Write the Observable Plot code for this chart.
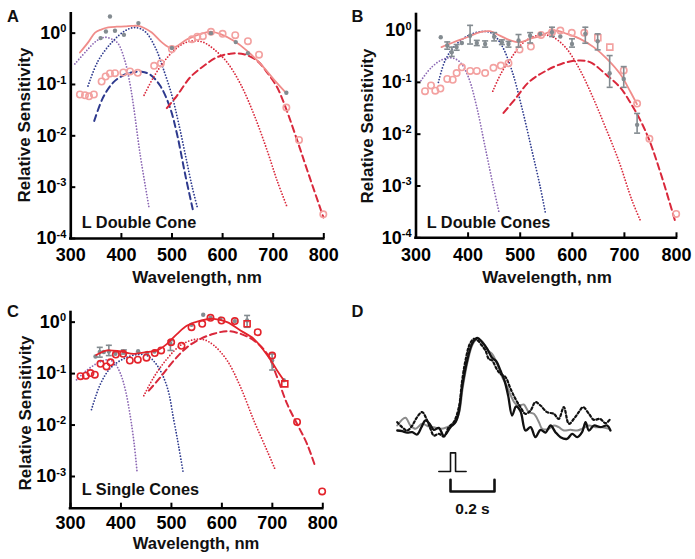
<!DOCTYPE html>
<html><head><meta charset="utf-8">
<script src="https://cdn.jsdelivr.net/npm/d3@7"></script>
<script src="https://cdn.jsdelivr.net/npm/@observablehq/plot@0.6"></script>
<style>
body{margin:0;background:#fff;}
#wrap{position:relative;width:695px;height:559px;overflow:hidden;font-family:"Liberation Sans",Arial,sans-serif;}
#wrap svg{position:absolute;}
</style></head><body><div id="wrap"></div>
<script>
// ---------- DATA (sensitivities stored as log10 values) ----------
const xTicks = [300, 400, 500, 600, 700, 800];
const yTicksAB = [1, 0.1, 0.01, 0.001, 0.0001];
const yTicksC = [1, 0.1, 0.01, 0.001];

// Panel A – L double cone
const A_pinkLineLam = [318,335,348,360,374,390,407,420,434,445,460,480,498,512,530,556,576,596,622,648,675,701,725];
const A_pinkLineLog = [-0.378,-0.17,0.01,0.07,0.11,0.125,0.13,0.14,0.14,0.10,0.012,-0.18,-0.29,-0.24,-0.12,-0.02,0.03,-0.02,-0.15,-0.34,-0.60,-0.90,-1.16];
const A_uvLam = [308,331,351,367.5,384,394,407,417,424,437,454.8];
const A_uvLog = [-0.60,-0.344,-0.149,-0.08,-0.13,-0.21,-0.54,-0.99,-1.42,-2.36,-3.41];
const A_vDotLam = [334,354,381,407,427,447,467,483,500,513,527,540,551];
const A_vDotLog = [-1.03,-0.54,-0.18,0.045,0.11,0.03,-0.28,-0.70,-1.22,-1.75,-2.4,-3.0,-3.43];
const A_vDashLam = [346.3,364,384,404,423.7,440,457,477,496,510,526,541];
const A_vDashLog = [-1.71,-1.25,-0.96,-0.82,-0.76,-0.75,-0.81,-1.03,-1.45,-1.97,-2.75,-3.43];
const A_lDotLam = [444.8,463.4,483,503,523,542.7,562.6,582.4,609,635.3,661.8,688.2,708,728];
const A_lDotLog = [-1.21,-0.86,-0.57,-0.344,-0.20,-0.15,-0.18,-0.31,-0.57,-0.99,-1.58,-2.29,-2.88,-3.40];
const A_lDashLam = [489.8,509.7,536,562.6,589,615.5,642,668.4,688.2,708,724.6,747.8,767.6,799.3];
const A_lDashLog = [-1.46,-1.22,-0.86,-0.64,-0.47,-0.40,-0.41,-0.54,-0.77,-1.06,-1.45,-2.10,-2.68,-3.59];
const A_circLam = [318,328,336,345.6,360.9,368.8,377.4,387.3,403.8,417,432.3,464.7,478,499.8,539.5,550,561,577,600,625,650,672,726,751,799];
const A_circLog = [-1.195,-1.21,-1.23,-1.195,-0.942,-0.845,-0.786,-0.78,-0.767,-0.747,-0.773,-0.637,-0.585,-0.31,-0.117,-0.07,-0.06,0.026,-0.013,-0.04,-0.156,-0.42,-1.45,-2.08,-3.53];
const A_grayLam = [358.9,369.4,377.4,387.3,405,433.6,499.8,577,626,650,726];
const A_grayLog = [-0.097,0.031,0.323,0.045,-0.033,0.195,-0.29,0.0,-0.175,-0.39,-1.16];

// Panel B – L double cones
const B_pinkLineLam = [349,372,398,423,442,461,481,500,519,538,564,590,615,641,667,692,712,724];
const B_pinkLineLog = [-0.32,-0.226,-0.13,-0.03,-0.013,-0.097,-0.19,-0.226,-0.16,-0.11,0,-0.064,-0.16,-0.32,-0.55,-0.84,-1.19,-1.42];
const B_uvLam = [309.6,330,349.4,368.6,384.6,400.6,416.7,432.7,448.7,459.6];
const B_uvLog = [-0.965,-0.707,-0.566,-0.527,-0.61,-0.90,-1.48,-2.25,-3.02,-3.52];
const B_vDotLam = [343,355.8,375,400.6,426.3,445.5,464.7,484,503,522.4,538.5,548];
const B_vDotLog = [-1.0,-0.58,-0.29,-0.096,-0.019,-0.05,-0.29,-0.77,-1.48,-2.31,-3.02,-3.50];
const B_lDotLam = [447.4,464.7,484,503,522.4,541.7,561,586.5,612,637.8,663.5,689,714.7,730.8];
const B_lDotLog = [-1.17,-0.80,-0.51,-0.26,-0.13,-0.084,-0.116,-0.32,-0.71,-1.25,-1.865,-2.51,-3.28,-3.67];
const B_lDashLam = [468,490.4,516,548,580,608,634,667,692,712,731,748,772,798];
const B_lDashLog = [-1.59,-1.32,-1.0,-0.785,-0.64,-0.58,-0.61,-0.87,-1.10,-1.40,-1.74,-2.12,-2.83,-3.70];
const B_circLam = [317.3,328.8,337,346.8,360,370.5,378,388,404,416.7,432.7,448.7,462.8,477.5,498.7,520.5,540,561,577,599,623,698.7,724.4,748,799.4];
const B_circLog = [-1.17,-1.06,-1.16,-1.12,-0.935,-0.95,-0.82,-0.71,-0.78,-0.78,-0.82,-0.72,-0.676,-0.63,-0.367,-0.31,-0.084,-0.032,0,-0.045,-0.045,-0.77,-1.41,-2.09,-3.54];
const B_sqLam = [649,672];
const B_sqLog = [-0.14,-0.32];
const B_grayLam = [347.5,360,368.6,378,388,403.8,416.7,432.7,450,464.8,477.5,496.8,519,538.5,561,577,599.4,625,648.7,671.7,698.7,724.4];
const B_grayLog = [-0.13,-0.29,-0.42,-0.32,-0.24,-0.10,-0.24,-0.26,-0.12,-0.225,-0.26,-0.19,-0.10,-0.064,-0.032,-0.116,-0.26,-0.064,-0.206,-0.825,-0.935,-1.82];
const B_barLam = [360,368.6,378,403.8,416.7,432.7,450,464.8,477.5,496.8,519,561,599.4,625,648.7,671.7,698.7,724.4];
const B_barLoLog = [-0.36,-0.50,-0.38,-0.26,-0.29,-0.32,-0.20,-0.27,-0.32,-0.32,-0.24,-0.116,-0.32,-0.245,-0.373,-1.096,-1.096,-1.98];
const B_barHiLog = [-0.22,-0.32,-0.27,0.10,-0.19,-0.20,-0.04,-0.18,-0.21,-0.077,-0.04,0.064,-0.16,0.064,-0.064,-0.483,-0.696,-1.60];

// Panel C – L single cones
const C_redLineLam = [351,372.7,399,425.5,452,471.7,491.5,511.4,531.2,557.6,584,610.4,636.9,663.3,683,699.6,709.5,722.7];
const C_redLineLog = [-0.64,-0.55,-0.57,-0.615,-0.58,-0.55,-0.42,-0.227,-0.065,0.032,0.065,0,-0.162,-0.324,-0.55,-0.78,-0.94,-1.13];
const C_uvLam = [312,333,353,373,386,399,409,418,426,432];
const C_uvLog = [-1.12,-0.93,-0.80,-0.73,-0.78,-1.0,-1.33,-1.8,-2.35,-2.92];
const C_vDotLam = [341.6,359.4,379.3,405.7,432,452,471.7,491.5,504.8,514.7,523.3];
const C_vDotLog = [-1.70,-1.20,-0.89,-0.71,-0.63,-0.65,-0.84,-1.26,-1.91,-2.43,-2.92];
const C_lDotLam = [445.3,465.1,491.5,518,544.4,564.2,584,610.4,636.9,663.3,689.7,706.2];
const C_lDotLog = [-1.43,-1.07,-0.71,-0.45,-0.34,-0.34,-0.45,-0.745,-1.26,-1.91,-2.50,-2.88];
const C_lDashLam = [455.2,478.3,504.8,531.2,557.6,584,610.4,636.9,663.3,689.7,709.5,729.3,749.1,768.9,785.5];
const C_lDashLog = [-1.33,-1.07,-0.745,-0.486,-0.324,-0.227,-0.175,-0.227,-0.356,-0.616,-1.07,-1.59,-1.98,-2.37,-2.82];
const C_circLam = [319.8,330.4,339.6,348.2,359.4,371.3,379.3,389.8,404.4,417.6,433.4,450.6,467,479.7,499.5,520,539.8,561,577.4,599.2,625.6,671,699.6,749,798.7];
const C_circLog = [-1.05,-1.04,-0.99,-1.02,-0.81,-0.86,-0.78,-0.63,-0.615,-0.745,-0.73,-0.69,-0.60,-0.55,-0.39,-0.46,-0.097,-0.032,0.084,0.032,0.02,-0.194,-0.65,-1.94,-3.29];
const C_sqLam = [650,724.7];
const C_sqLog = [-0.032,-1.20];
const C_grayLam = [349.5,358,366,376,389,405.7,434,452,466.4,498,539.8,563,577.4,597,625.6,650,699.6,722.7];
const C_grayLog = [-0.667,-0.58,-0.58,-0.57,-0.615,-0.58,-0.564,-0.60,-0.57,-0.42,-0.052,0.143,0.084,0.065,0.02,0.032,-0.745,-1.13];
const C_barLam = [358,376,405.7,498,650,699.6];
const C_barLoLog = [-0.68,-0.65,-0.62,-0.55,-0.10,-0.93];
const C_barHiLog = [-0.49,-0.45,-0.54,-0.36,0.13,-0.62];

// Panel D – responses (time s, normalised response)
const D_solidT = [-0.242,-0.220,-0.197,-0.174,-0.152,-0.132,-0.114,-0.095,-0.076,-0.053,-0.030,0,0.023,0.038,0.053,0.076,0.098,0.121,0.144,0.167,0.189,0.208,0.227,0.245,0.262,0.280,0.298,0.318,0.341,0.364,0.386,0.409,0.432,0.455,0.477,0.5,0.530,0.553,0.576,0.598,0.614,0.629,0.652,0.682,0.712,0.727];
const D_solidV = [0,-0.007,-0.022,-0.018,-0.043,0.036,0.108,0.072,0.007,0.029,-0.058,0.036,0.090,0.198,0.468,0.755,0.935,1.0,0.953,0.881,0.784,0.748,0.647,0.540,0.378,0.162,0.259,0.209,0,0.036,-0.072,0.007,-0.022,0.054,-0.018,-0.072,-0.090,-0.036,-0.072,-0.018,0.090,0,0.054,0.036,0.054,0];
const D_grayT = [-0.242,-0.205,-0.182,-0.159,-0.129,-0.098,-0.076,-0.045,-0.015,0.015,0.038,0.056,0.079,0.102,0.124,0.147,0.170,0.189,0.212,0.235,0.255,0.274,0.295,0.314,0.333,0.356,0.379,0.402,0.417,0.447,0.470,0.492,0.515,0.545,0.576,0.598,0.629,0.659,0.689,0.720];
const D_grayV = [0.054,0.137,0.054,0.018,0.072,0.043,0.036,0.018,0.036,0.072,0.180,0.468,0.755,0.935,0.989,0.953,0.863,0.827,0.719,0.576,0.486,0.378,0.288,0.270,0.281,0.198,0.180,0.090,0.018,0.018,0.054,0.036,0,0.007,0,0.018,0.054,0.036,0.036,0.018];
const D_dotT = [-0.242,-0.220,-0.197,-0.174,-0.152,-0.129,-0.106,-0.091,-0.076,-0.053,-0.030,-0.008,0.015,0.038,0.053,0.068,0.088,0.106,0.124,0.139,0.159,0.174,0.189,0.212,0.227,0.250,0.273,0.295,0.318,0.341,0.364,0.386,0.409,0.439,0.470,0.492,0.515,0.538,0.561,0.583,0.603,0.629,0.652,0.679,0.705,0.727];
const D_dotV = [0.090,0.036,0,0.054,0.144,0.198,0.108,0.018,-0.054,-0.036,-0.065,0.036,0.090,0.252,0.540,0.755,0.935,0.989,0.971,0.928,0.863,0.773,0.755,0.655,0.612,0.576,0.450,0.342,0.252,0.180,0.216,0.306,0.270,0.198,0.180,0.126,0.252,0.072,0.126,0.198,0.252,0.180,0.115,0.126,0.079,0.126];
const D_stimT = [-0.053,0,0,0.023,0.023,0.071];
const D_stimV = [-0.442,-0.442,-0.241,-0.241,-0.442,-0.442];
const D_barT = [0,0,0.2,0.2];
const D_barV = [-0.532,-0.658,-0.658,-0.532];
const D_barLabel = "0.2 s";
const D_barLabelV = -0.85;

// ---------- helpers ----------
const ns = "http://www.w3.org/2000/svg";
const wrap = document.getElementById("wrap");
const FONT = "'Liberation Sans', Arial, sans-serif";
const PINK = "#f08c8a", PINKC = "#f3a1a0", RED = "#e3232b", REDD = "#d9283b", PURPLE = "#8c68b4", BLUE = "#2e3a8e", GRAY = "#838b90";
const pts = (lam, lg) => lam.map((x, i) => ({x, y: Math.pow(10, lg[i])}));
const bars = (lam, lo, hi) => lam.map((x, i) => ({x, lo: Math.pow(10, lo[i]), hi: Math.pow(10, hi[i])}));
const cap = {draw(ctx, size) { const w = Math.sqrt(size / Math.PI); ctx.moveTo(-w, 0); ctx.lineTo(w, 0); }};

function curve(lam, lg, stroke, kind) {
  const o = {x: "x", y: "y", stroke, curve: "catmull-rom"};
  if (kind === "dot") Object.assign(o, {strokeWidth: 1.8, strokeDasharray: "0,3", strokeLinecap: "round"});
  else if (kind === "dash") Object.assign(o, {strokeWidth: 2, strokeDasharray: "6.5,4"});
  else Object.assign(o, {strokeWidth: 1.8});
  return Plot.line(pts(lam, lg), o);
}
function circles(lam, lg, stroke) {
  return Plot.dot(pts(lam, lg), {x: "x", y: "y", r: 3.2, stroke, strokeWidth: 1.6, fill: "none"});
}
function squares(lam, lg, stroke) {
  return Plot.dot(pts(lam, lg), {x: "x", y: "y", r: 3.4, symbol: "square", stroke, strokeWidth: 1.6, fill: "none"});
}
function grayDots(lam, lg) {
  return Plot.dot(pts(lam, lg), {x: "x", y: "y", r: 2.2, fill: GRAY, stroke: "none"});
}
function errBars(lam, lo, hi) {
  const d = bars(lam, lo, hi);
  return [
    Plot.ruleX(d, {x: "x", y1: "lo", y2: "hi", stroke: GRAY, strokeWidth: 1.6}),
    Plot.dot(d, {x: "x", y: "lo", symbol: cap, r: 3, stroke: GRAY, strokeWidth: 1.6, fill: "none"}),
    Plot.dot(d, {x: "x", y: "hi", symbol: cap, r: 3, stroke: GRAY, strokeWidth: 1.6, fill: "none"})
  ];
}
function superscripts(svg) {
  svg.querySelectorAll('g[aria-label="y-axis tick label"] text').forEach(t => {
    const s = t.textContent, i = s.indexOf("^");
    if (i < 0) return;
    t.textContent = s.slice(0, i);
    const ts = document.createElementNS(ns, "tspan");
    ts.setAttribute("dy", "-6.5");
    ts.setAttribute("font-size", "11px");
    ts.textContent = s.slice(i + 1);
    t.appendChild(ts);
  });
}
function place(svg, left, top) {
  svg.style.left = left + "px"; svg.style.top = top + "px";
  wrap.appendChild(svg);
}
const baseStyle = {fontFamily: FONT, fontWeight: "bold", fontSize: "18px", background: "none", overflow: "visible", color: "#000"};

function spectral({left, top, width, height, mL, mR, mT, mB, yDomain, yTicks, marks, xPad = 15}) {
  const svg = Plot.plot({
    width, height, marginLeft: mL, marginRight: mR, marginTop: mT, marginBottom: mB,
    x: {domain: [300, 800]},
    y: {type: "log", domain: yDomain},
    style: baseStyle,
    marks: [
      ...marks,
      Plot.axisX({ticks: xTicks, tickSize: -5, tickPadding: xPad, strokeWidth: 2, tickFormat: d => String(d), label: null}),
      Plot.axisY({ticks: yTicks, tickSize: -5, tickPadding: 9.5, strokeWidth: 2, tickFormat: d => "10^" + Math.round(Math.log10(d)), label: null}),
      Plot.ruleX([300], {strokeWidth: 2.6, strokeLinecap: "square"}),
      Plot.ruleY([yDomain[0]], {strokeWidth: 2.6, strokeLinecap: "square"})
    ]
  });
  superscripts(svg);
  place(svg, left, top);
}

// ---------- Panel A ----------
spectral({
  left: 0, top: 0, width: 345, height: 280, mL: 70.3, mR: 21.7, mT: 13.3, mB: 42,
  yDomain: [1e-4, 2.38], yTicks: yTicksAB,
  marks: [
    curve(A_uvLam, A_uvLog, PURPLE, "dot"),
    curve(A_vDotLam, A_vDotLog, BLUE, "dot"),
    curve(A_vDashLam, A_vDashLog, BLUE, "dash"),
    curve(A_lDotLam, A_lDotLog, REDD, "dot"),
    curve(A_lDashLam, A_lDashLog, REDD, "dash"),
    curve(A_pinkLineLam, A_pinkLineLog, PINK, "solid"),
    circles(A_circLam, A_circLog, PINKC),
    grayDots(A_grayLam, A_grayLog)
  ]
});

// ---------- Panel B ----------
spectral({
  left: 345, top: 0, width: 350, height: 280, mL: 70.5, mR: 19, mT: 14, mB: 42.7,
  yDomain: [1e-4, 2.04], yTicks: yTicksAB,
  marks: [
    curve(B_uvLam, B_uvLog, PURPLE, "dot"),
    curve(B_vDotLam, B_vDotLog, BLUE, "dot"),
    curve(B_lDotLam, B_lDotLog, REDD, "dot"),
    curve(B_lDashLam, B_lDashLog, REDD, "dash"),
    curve(B_pinkLineLam, B_pinkLineLog, PINK, "solid"),
    circles(B_circLam, B_circLog, PINKC),
    squares(B_sqLam, B_sqLog, PINKC),
    ...errBars(B_barLam, B_barLoLog, B_barHiLog),
    grayDots(B_grayLam, B_grayLog)
  ]
});

// ---------- Panel C ----------
spectral({
  left: 0, top: 280, width: 345, height: 279, mL: 70, mR: 22.7, mT: 32, mB: 51.3, xPad: 13,
  yDomain: [2.42e-4, 1.54], yTicks: yTicksC,
  marks: [
    curve(C_uvLam, C_uvLog, PURPLE, "dot"),
    curve(C_vDotLam, C_vDotLog, BLUE, "dot"),
    curve(C_lDotLam, C_lDotLog, REDD, "dot"),
    curve(C_lDashLam, C_lDashLog, REDD, "dash"),
    ...errBars(C_barLam, C_barLoLog, C_barHiLog),
    grayDots(C_grayLam, C_grayLog),
    curve(C_redLineLam, C_redLineLog, RED, "solid"),
    circles(C_circLam, C_circLog, RED),
    squares(C_sqLam, C_sqLog, RED)
  ]
});

// ---------- Panel D ----------
{
  const tr = (T, V) => T.map((t, i) => ({t, v: V[i]}));
  const svg = Plot.plot({
    width: 220, height: 200, margin: 0,
    x: {domain: [-0.25, 0.75], axis: null},
    y: {domain: [-1.025, 1.133], axis: null},
    style: baseStyle,
    marks: [
      Plot.line(tr(D_grayT, D_grayV), {x: "t", y: "v", stroke: "#8c8c8c", strokeWidth: 2, curve: "catmull-rom"}),
      Plot.line(tr(D_solidT, D_solidV), {x: "t", y: "v", stroke: "#111", strokeWidth: 2.3, curve: "catmull-rom"}),
      Plot.line(tr(D_dotT, D_dotV), {x: "t", y: "v", stroke: "#111", strokeWidth: 2.2, strokeDasharray: "2.2,2.4", curve: "catmull-rom"}),
      Plot.line(tr(D_stimT, D_stimV), {x: "t", y: "v", stroke: "#111", strokeWidth: 1.6}),
      Plot.line(tr(D_barT, D_barV), {x: "t", y: "v", stroke: "#111", strokeWidth: 2.6}),
      Plot.text([D_barLabel], {x: (D_barT[0] + D_barT[3]) / 2, y: D_barLabelV, text: d => d, fontSize: 15.5, fontWeight: "bold", fill: "#111"})
    ]
  });
  place(svg, 395, 325);
}

// ---------- titles, panel letters and annotations ----------
const texts = [
  {t: "A", x: 7, y: 22, s: 16.5},
  {t: "B", x: 351.5, y: 22, s: 16.5},
  {t: "C", x: 7, y: 317, s: 16.5},
  {t: "D", x: 351.5, y: 317, s: 16.5},
  {t: "Wavelength, nm", x: 197, y: 283, s: 17, a: "middle"},
  {t: "Wavelength, nm", x: 547, y: 283, s: 17, a: "middle"},
  {t: "Wavelength, nm", x: 196, y: 549, s: 16.6, a: "middle"},
  {t: "Relative Sensitivity", x: 30, y: 125, s: 17, a: "middle", rot: true},
  {t: "Relative Sensitivity", x: 373, y: 126, s: 17, a: "middle", rot: true},
  {t: "Relative Sensitivity", x: 30.5, y: 413, s: 17, a: "middle", rot: true},
  {t: "L Double Cone", x: 81.7, y: 228.3, s: 16.3},
  {t: "L Double Cones", x: 426.7, y: 228.3, s: 16.3},
  {t: "L Single Cones", x: 81.7, y: 495, s: 16.3}
];
const ov = document.createElementNS(ns, "svg");
ov.setAttribute("width", 695); ov.setAttribute("height", 559);
ov.style.left = "0px"; ov.style.top = "0px"; ov.style.pointerEvents = "none";
for (const d of texts) {
  const e = document.createElementNS(ns, "text");
  e.setAttribute("transform", `translate(${d.x},${d.y})` + (d.rot ? " rotate(-90)" : ""));
  e.setAttribute("text-anchor", d.a || "start");
  e.setAttribute("font-family", FONT);
  e.setAttribute("font-weight", "bold");
  e.setAttribute("font-size", d.s);
  e.setAttribute("fill", "#111");
  e.textContent = d.t;
  ov.appendChild(e);
}
wrap.appendChild(ov);
</script></body></html>
